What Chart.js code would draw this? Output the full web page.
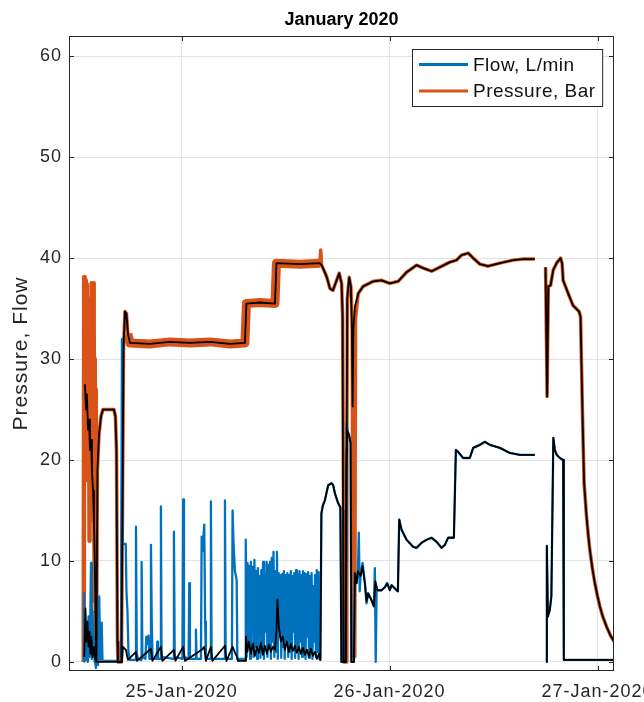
<!DOCTYPE html>
<html><head><meta charset="utf-8">
<script src="https://cdn.jsdelivr.net/npm/chart.js@4.4.0/dist/chart.umd.min.js"></script>
<style>html,body{margin:0;padding:0;background:#fff}canvas{display:block}</style>
</head><body>
<canvas id="c" width="644" height="702"></canvas>
<script>
// ---------- data (x = hours after 25-Jan-2020 00:00) ----------
const chartTitle = 'January 2020';
const yAxisTitle = 'Pressure, Flow';
const seriesNames = ['Flow, L/min', 'Pressure, Bar'];
const xTickHours = [0, 24, 48];
const xTickLabels = ['25-Jan-2020', '26-Jan-2020', '27-Jan-2020'];
const yTickValues = [0, 10, 20, 30, 40, 50, 60];
const xRange = [-13.0, 49.9];
const yRange = [-0.9, 62];

const pressureSmooth = [[-11.16,27.5],[-11.04,25],[-10.93,26.5],[-10.81,23],[-10.69,24],[-10.58,21],[-10.46,22],[-10.35,19],[-10.23,17],[-10.12,14],[-10.00,9],[-9.89,1.5],[-9.83,0],[-9.72,19],[-9.54,22.5],[-9.31,24.3],[-9.08,25],[-7.81,25],[-7.64,24.3],[-7.52,21],[-7.41,2],[-7.35,0],[-6.95,0],[-6.83,15],[-6.71,31],[-6.54,34.7],[-6.37,34.5],[-6.20,32.5],[-5.96,31.6],[-3.66,31.5],[-1.35,31.7],[0.96,31.6],[3.27,31.7],[5.57,31.5],[7.30,31.6],[7.48,35.5],[9.03,35.6],[10.77,35.5],[10.94,39.5],[13.65,39.4],[15.96,39.5],[16.15,39.3],[16.42,38.8],[16.76,38.1],[17.11,37.0],[17.46,36.8],[17.80,37.6],[18.18,38.5],[18.46,37.5],[18.58,34.2],[18.63,15],[18.67,0],[18.96,0],[19.04,20],[19.11,36],[19.34,38.1],[19.53,37.2],[19.65,33],[19.73,25.3],[19.82,33],[20.00,35.2],[20.38,36.5],[20.95,37.2],[22.11,37.7],[23.08,37.8],[24.03,37.5],[24.99,37.7],[25.96,38.6],[27.11,39.3],[27.88,39.0],[28.85,38.7],[29.80,39.1],[30.96,39.6],[31.73,39.8],[32.31,40.3],[33.07,40.5],[33.65,40.0],[34.42,39.4],[35.38,39.2],[36.73,39.5],[38.26,39.8],[39.41,39.9],[40.76,39.9],[41.4,null],[42.00,39.1],[42.18,26.3],[42.32,37.2],[42.58,37.3],[42.88,38.8],[43.27,39.5],[43.73,40.0],[43.91,39.5],[44.03,37.8],[44.61,36.5],[45.18,35.3],[45.87,34.7],[46.04,34.2],[46.27,24.3],[46.45,17.7],[46.73,14.4],[46.90,12.8],[47.11,11.1],[47.40,9.3],[47.69,7.8],[48.00,6.5],[48.27,5.5],[48.60,4.5],[49.04,3.5],[49.50,2.6],[50.0,1.9]];

const pressureRaw = [[-11.30,0],[-11.25,38.1],[-11.21,24],[-11.17,38.0],[-11.13,22],[-11.09,37.8],[-11.05,28],[-11.01,37.2],[-10.97,19],[-10.93,37.4],[-10.89,26],[-10.85,36],[-10.81,18],[-10.77,35],[-10.73,22],[-10.69,31],[-10.65,12],[-10.61,33],[-10.57,20],[-10.53,29],[-10.49,16],[-10.45,36],[-10.41,20],[-10.37,37.5],[-10.33,14],[-10.29,37.3],[-10.25,24],[-10.21,37.5],[-10.17,21],[-10.13,33],[-10.09,18],[-10.05,30],[-10.01,6],[-9.97,27],[-9.93,12],[-9.89,0],[-9.83,0],[-9.72,19],[-9.54,22.5],[-9.31,24.3],[-9.08,25],[-7.81,25],[-7.64,24.3],[-7.52,21],[-7.41,2],[-7.35,0],[-6.95,0],[-6.83,15],[-6.71,31],[-6.54,34.7],[-6.37,34.5],[-6.20,32.5],[-5.96,31.6],[-3.66,31.5],[-1.35,31.7],[0.96,31.6],[3.27,31.7],[5.57,31.5],[7.30,31.6],[7.48,35.5],[9.03,35.6],[10.77,35.5],[10.94,39.5],[13.65,39.4],[15.96,39.5],[16.05,40.8],[16.15,39.3],[16.42,38.8],[16.76,38.1],[17.11,37.0],[17.46,36.8],[17.80,37.6],[18.18,38.5],[18.46,37.5],[18.58,34.2],[18.68,15],[18.72,0],[19.00,0],[19.07,20],[19.13,36],[19.34,38.1],[19.53,37.2],[19.68,34],[19.80,0.5],[19.98,0.5],[20.07,34],[20.38,36.5],[20.95,37.2],[22.11,37.7],[23.08,37.8],[24.03,37.5],[24.99,37.7],[25.96,38.6],[27.11,39.3],[27.88,39.0],[28.85,38.7],[29.80,39.1],[30.96,39.6],[31.73,39.8],[32.31,40.3],[33.07,40.5],[33.65,40.0],[34.42,39.4],[35.38,39.2],[36.73,39.5],[38.26,39.8],[39.41,39.9],[40.76,39.9],[41.4,null],[42.00,39.1],[42.18,26.3],[42.32,37.2],[42.58,37.3],[42.88,38.8],[43.27,39.5],[43.73,40.0],[43.91,39.5],[44.03,37.8],[44.61,36.5],[45.18,35.3],[45.87,34.7],[46.04,34.2],[46.27,24.3],[46.45,17.7],[46.73,14.4],[46.90,12.8],[47.11,11.1],[47.40,9.3],[47.69,7.8],[48.00,6.5],[48.27,5.5],[48.60,4.5],[49.04,3.5],[49.50,2.6],[50.0,1.9]];

const flowSmooth = [[-11.24,0.5],[-11.10,5.3],[-10.98,2.0],[-10.87,4.0],[-10.75,1.5],[-10.64,3.0],[-10.52,0.8],[-10.41,2.5],[-10.29,0.5],[-10.12,1.5],[-9.95,0.2],[-9.77,0],[-6.89,0],[-6.77,1.5],[-6.43,1.2],[-6.20,0.2],[-5.27,1.0],[-5.15,0.1],[-3.54,1.3],[-3.37,0.1],[-2.39,1.5],[-2.22,0.1],[-0.89,1.2],[-0.72,0.1],[0.18,1.5],[0.38,0.1],[2.31,1.2],[2.61,1.5],[2.80,0.1],[3.38,1.5],[3.55,0.1],[5.00,1.6],[5.17,0.1],[5.88,1.5],[6.38,0.5],[6.50,0.1],[7.36,0.1],[7.42,2.5],[7.59,1.0],[7.76,2.0],[8.00,0.8],[8.23,1.8],[8.46,0.6],[8.69,1.5],[8.92,0.9],[9.15,1.9],[9.38,0.7],[9.61,1.6],[9.84,0.8],[10.07,1.7],[10.30,1.0],[10.53,1.5],[10.77,1.2],[10.94,3],[11.05,6.2],[11.22,3.5],[11.46,2.0],[11.69,2.5],[11.92,1.2],[12.15,2.0],[12.38,1.0],[12.61,1.8],[12.84,1.1],[13.07,1.6],[13.30,0.9],[13.53,1.5],[13.76,0.8],[14.00,1.4],[14.23,0.7],[14.46,1.2],[14.69,0.5],[14.92,1.3],[15.15,0.6],[15.38,1.0],[15.61,0.3],[15.84,0.8],[16.01,0.2],[16.13,14.7],[16.30,15.5],[16.53,16.0],[16.91,17.5],[17.31,17.7],[17.49,17.5],[17.69,16.7],[18.03,15.8],[18.32,15.3],[18.44,0],[18.90,0],[19.02,20],[19.13,22.9],[19.31,22.5],[19.50,21.7],[19.59,0],[19.88,0],[20.00,8.8],[20.19,7.8],[20.34,9.0],[20.65,8.5],[20.88,9.5],[21.15,7.8],[21.34,6.0],[21.53,6.8],[21.92,6.1],[22.19,5.5],[22.36,8.0],[22.61,7.1],[23.08,7.1],[23.46,7.4],[23.72,7.8],[24.03,7.1],[24.23,7.6],[24.81,7.1],[24.96,7.0],[25.11,14.1],[25.38,13.1],[25.96,12.1],[26.72,11.4],[27.11,11.3],[27.69,11.8],[28.27,12.1],[28.85,12.3],[29.42,11.9],[30.00,11.3],[30.38,11.6],[30.76,12.3],[31.42,12.3],[31.65,21.0],[31.91,20.8],[32.49,20.2],[33.26,20.2],[33.65,21.2],[34.42,21.5],[35.00,21.8],[35.57,21.5],[36.73,21.2],[37.88,20.7],[39.03,20.5],[40.76,20.5],[41.4,null],[42.07,0],[42.15,11.5],[42.27,4.5],[42.50,5.2],[42.67,6.5],[42.90,22.2],[43.07,21.0],[43.30,20.5],[43.65,20.2],[44.03,20.0],[44.11,0.2],[50.0,0.2]];

const flowRaw = [[-11.30,0],[-11.27,6.8],[-11.20,0.3],[-11.11,3.5],[-11.02,0.2],[-10.93,2.0],[-10.83,0],[-10.74,4.5],[-10.65,0.5],[-10.56,3],[-10.46,9.8],[-10.37,0.3],[-10.28,5],[-10.19,0.5],[-10.10,2.5],[-10.00,0],[-9.89,-0.6],[-9.77,0.4],[-9.65,-0.3],[-9.51,6.5],[-9.40,0.2],[-9.23,3.9],[-9.13,0],[-8.97,0.1],[-7.00,0.1],[-6.89,32],[-6.80,11.7],[-6.45,11.7],[-6.37,7],[-6.25,5],[-6.14,1],[-5.97,0.2],[-5.35,0.2],[-5.27,13.4],[-5.18,0.8],[-5.04,0.3],[-4.69,0.2],[-4.62,9.9],[-4.53,0.5],[-4.18,0.3],[-4.08,2.5],[-3.95,1.8],[-3.83,2.6],[-3.72,0.3],[-3.62,0.3],[-3.54,11.6],[-3.45,4],[-3.36,0.3],[-2.88,0.3],[-2.81,2],[-2.73,0.3],[-2.47,0.3],[-2.39,15.4],[-2.32,0.5],[-0.97,0.3],[-0.89,12.9],[-0.80,0.5],[0.10,0.3],[0.18,16.1],[0.27,0.5],[0.80,0.3],[0.88,7.8],[0.96,0.3],[1.57,0.3],[1.65,3.2],[1.73,0.3],[2.23,0.3],[2.31,12.4],[2.41,11],[2.61,13.6],[2.71,4],[2.80,0.3],[3.30,0.3],[3.38,15.9],[3.46,0.3],[4.92,0.3],[5.00,16.0],[5.08,0.3],[5.80,0.3],[5.88,15.0],[5.98,12],[6.15,9],[6.35,8.1],[6.43,0.3],[7.34,0.3],
[7.4,12.1],[7.5,0.5],[7.6,9.8],[7.7,2],[7.8,9.5],[7.9,0.3],[8.0,9.9],[8.1,3],[8.2,9.4],[8.3,0.5],[8.4,10.1],[8.5,1.5],[8.6,9.0],[8.7,0.3],[8.8,9.3],[8.9,2.5],[9.0,8.5],[9.1,0.4],[9.2,9.1],[9.3,1],[9.4,9.9],[9.5,0.3],[9.6,8.8],[9.7,3],[9.8,9.9],[9.9,0.5],[10.0,9.6],[10.1,1.5],[10.2,9.9],[10.3,0.3],[10.4,10.3],[10.5,2],[10.6,10.9],[10.7,0.5],[10.8,9.0],[10.9,1],[11.0,10.9],[11.1,0.3],[11.2,8.8],[11.3,2.5],[11.4,8.6],[11.5,0.4],[11.6,8.7],[11.7,1.5],[11.8,9.0],[11.9,0.3],[12.0,8.6],[12.1,2],[12.2,8.8],[12.3,0.5],[12.4,8.6],[12.5,1],[12.6,9.0],[12.7,0.3],[12.8,8.5],[12.9,3],[13.0,8.8],[13.1,0.4],[13.2,9.1],[13.3,1.5],[13.4,8.7],[13.5,0.3],[13.6,9.0],[13.7,2],[13.8,8.6],[13.9,0.5],[14.0,9.0],[14.1,1],[14.2,8.8],[14.3,0.3],[14.4,8.7],[14.5,2.5],[14.6,8.9],[14.7,0.4],[14.8,8.5],[14.9,1.5],[15.0,8.8],[15.1,0.3],[15.2,7.5],[15.3,2],[15.4,8.6],[15.5,0.5],[15.6,9.1],[15.7,1],[15.8,8.9],[15.9,0.3],
[16.01,0.2],[16.13,14.7],[16.30,15.5],[16.53,16.0],[16.91,17.5],[17.31,17.7],[17.49,17.5],[17.69,16.7],[18.03,15.8],[18.32,15.3],[18.44,0],[18.90,0],[18.98,10],[19.04,23.6],[19.13,22.9],[19.31,22.5],[19.50,21.7],[19.59,0],[19.88,0],[20.00,8.8],[20.19,7.8],[20.34,9.0],[20.45,12.8],[20.55,7],[20.65,8.5],[20.88,9.8],[21.15,7.8],[21.34,5.8],[21.53,6.8],[21.92,6.1],[22.19,5.5],[22.30,9.3],[22.40,0],[22.50,7.1],[23.08,7.1],[23.46,7.4],[23.72,7.8],[24.03,7.1],[24.23,7.6],[24.81,7.1],[24.96,7.0],[25.11,14.1],[25.38,13.1],[25.96,12.1],[26.72,11.4],[27.11,11.3],[27.69,11.8],[28.27,12.1],[28.85,12.3],[29.42,11.9],[30.00,11.3],[30.38,11.6],[30.76,12.3],[31.42,12.3],[31.65,21.0],[31.91,20.8],[32.49,20.2],[33.26,20.2],[33.65,21.2],[34.42,21.5],[35.00,21.8],[35.57,21.5],[36.73,21.2],[37.88,20.7],[39.03,20.5],[40.76,20.5],[41.4,null],[42.07,0],[42.15,11.5],[42.27,4.5],[42.50,5.2],[42.67,6.5],[42.90,22.2],[43.07,21.0],[43.30,20.5],[43.65,20.2],[44.03,20.0],[44.11,0.2],[50.0,0.2]];

// ---------- chart ----------
const toPts = arr => arr.map(([x, y]) => ({x, y}));
const FONT = '"Liberation Sans", Arial, Helvetica, sans-serif';
const BLUE = '#0072BD', ORANGE = '#D95319';
Chart.defaults.font.family = FONT;
Chart.defaults.color = '#262626';

const plateauStart = -6.2, plateauEnd = 15.97, burstEnd = -9.85;

const framePlugin = {
  id: 'frame',
  beforeDraw(chart) {
    const c = chart.ctx;
    c.save(); c.fillStyle = '#fff'; c.fillRect(0, 0, chart.width, chart.height); c.restore();
    try { c.letterSpacing = '1px'; } catch (e) {}
  },
  afterDatasetsDraw(chart) {
    const {ctx, chartArea: a, scales: {x, y}} = chart;
    ctx.save();
    ctx.strokeStyle = '#262626'; ctx.lineWidth = 1;
    ctx.strokeRect(a.left + 0.5, a.top + 0.5, a.right - a.left - 1, a.bottom - a.top - 1);
    ctx.beginPath();
    const tl = 5;
    y.ticks.forEach(t => {
      const py = Math.round(y.getPixelForValue(t.value)) + 0.5;
      ctx.moveTo(a.left, py); ctx.lineTo(a.left + tl, py);
      ctx.moveTo(a.right - tl, py); ctx.lineTo(a.right, py);
    });
    x.ticks.forEach(t => {
      const px = Math.round(x.getPixelForValue(t.value)) + 0.5;
      ctx.moveTo(px, a.bottom); ctx.lineTo(px, a.bottom - tl);
      ctx.moveTo(px, a.top); ctx.lineTo(px, a.top + tl);
    });
    ctx.stroke();
    ctx.restore();
  },
  afterDraw(chart) {
    const {ctx, chartArea: a} = chart;
    ctx.save();
    try { ctx.letterSpacing = '0px'; } catch (e) {}
    // title
    ctx.font = 'bold 18px ' + FONT;
    ctx.fillStyle = '#000';
    ctx.textAlign = 'center'; ctx.textBaseline = 'middle';
    ctx.fillText(chartTitle, (a.left + a.right) / 2, 20);
    // legend
    try { ctx.letterSpacing = '0.5px'; } catch (e) {}
    ctx.font = '19px ' + FONT;
    const items = chart.data.datasets.filter(d => d.inLegend);
    const tw = Math.max(...items.map(d => ctx.measureText(d.label).width));
    const lineLen = 49, padL = 6.5, gap = 5, padR = 7, rowH = 26.4;
    const w = padL + lineLen + gap + tw + padR;
    const h = 57;
    const bx = Math.round(a.right - 12 - w) + 0.5, by = a.top + 13.5;
    ctx.fillStyle = '#fff';
    ctx.fillRect(bx, by, w, h);
    ctx.strokeStyle = '#262626'; ctx.lineWidth = 1;
    ctx.strokeRect(bx, by, w, h);
    items.forEach((d, i) => {
      const cy = by + 15 + i * rowH;
      ctx.strokeStyle = d.borderColor; ctx.lineWidth = 3;
      ctx.beginPath(); ctx.moveTo(bx + padL, cy); ctx.lineTo(bx + padL + lineLen, cy); ctx.stroke();
      ctx.fillStyle = '#111'; ctx.textAlign = 'left'; ctx.textBaseline = 'middle';
      ctx.fillText(d.label, bx + padL + lineLen + gap, cy + 1);
    });
    ctx.restore();
  }
};

new Chart(document.getElementById('c'), {
  type: 'line',
  data: {
    datasets: [
      { label: 'pressure smooth', data: toPts(pressureSmooth), borderColor: '#000', borderWidth: 1.8, order: 1 },
      { label: 'flow smooth', data: toPts(flowSmooth), borderColor: '#000', borderWidth: 1.8, order: 0 },
      { label: seriesNames[0], inLegend: true, data: toPts(flowRaw), borderColor: BLUE, borderWidth: 2.3, order: 2 },
      { label: seriesNames[1], inLegend: true, data: toPts(pressureRaw), borderColor: ORANGE, borderWidth: 3.5, order: 3,
        segment: { borderWidth: c => (c.p0.parsed.x >= plateauStart && c.p1.parsed.x <= plateauEnd) ? 9 : (c.p1.parsed.x <= burstEnd ? 4.5 : 3.5) } }
    ]
  },
  options: {
    responsive: false, animation: false, devicePixelRatio: 1,
    layout: { padding: { top: 36, right: 30, left: 0, bottom: 0 } },
    elements: { point: { radius: 0 }, line: { tension: 0, borderJoinStyle: 'round', borderCapStyle: 'butt' } },
    spanGaps: false,
    plugins: { legend: { display: false }, title: { display: false }, tooltip: { enabled: false } },
    scales: {
      x: {
        type: 'linear', min: xRange[0], max: xRange[1],
        afterBuildTicks: s => { s.ticks = xTickHours.map(v => ({ value: v })); },
        afterFit: s => { s.height = 31; s.paddingLeft = 0; s.paddingRight = 0; },
        grid: { color: '#e2e2e2', drawTicks: false },
        border: { display: false },
        ticks: { autoSkip: false, maxRotation: 0, padding: 10, color: '#262626', font: { size: 18 },
          callback: v => { const i = xTickHours.indexOf(v); return i >= 0 ? xTickLabels[i] : ''; } }
      },
      y: {
        type: 'linear', min: yRange[0], max: yRange[1],
        afterBuildTicks: s => { s.ticks = yTickValues.map(v => ({ value: v })); },
        afterFit: s => { s.width = 69; s.paddingTop = 0; s.paddingBottom = 0; },
        grid: { color: '#e2e2e2', drawTicks: false },
        border: { display: false },
        ticks: { padding: 7, color: '#262626', font: { size: 18 } },
        title: { display: true, text: yAxisTitle, color: '#262626', font: { size: 21 }, padding: { top: 9, bottom: 0 } }
      }
    }
  },
  plugins: [framePlugin]
});
</script>
</body></html>
